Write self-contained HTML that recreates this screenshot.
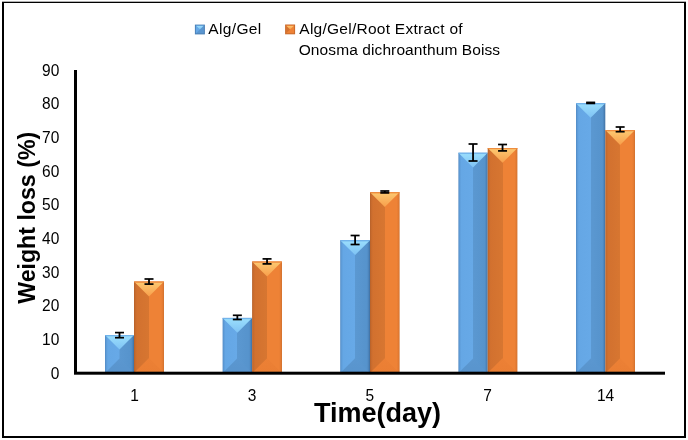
<!DOCTYPE html>
<html><head><meta charset="utf-8"><style>
html,body{margin:0;padding:0;background:#fff;}
svg{display:block;will-change:transform;}
text{font-family:"Liberation Sans",sans-serif;fill:#000;}
</style></head><body>
<svg width="688" height="440" viewBox="0 0 688 440">
<defs>
<linearGradient id="bside" x1="0" y1="0" x2="1" y2="0">
<stop offset="0" stop-color="#5088C2"/><stop offset="0.04" stop-color="#5C9AD6"/><stop offset="0.1" stop-color="#65A7E5"/><stop offset="0.499" stop-color="#67A9E7"/>
<stop offset="0.501" stop-color="#5B98D1"/><stop offset="0.9" stop-color="#5693CC"/><stop offset="0.955" stop-color="#4C83BA"/><stop offset="1" stop-color="#3F6F9F"/>
</linearGradient>
<linearGradient id="oside" x1="0" y1="0" x2="1" y2="0">
<stop offset="0" stop-color="#B4602A"/><stop offset="0.04" stop-color="#C66A2D"/><stop offset="0.1" stop-color="#D2712F"/><stop offset="0.499" stop-color="#D77631"/>
<stop offset="0.501" stop-color="#EE8236"/><stop offset="0.9" stop-color="#EE8236"/><stop offset="0.96" stop-color="#E27A32"/><stop offset="1" stop-color="#CF702E"/>
</linearGradient>
<linearGradient id="btop" x1="0" y1="0" x2="0" y2="1">
<stop offset="0" stop-color="#70B4EC"/><stop offset="0.12" stop-color="#98DCFC"/><stop offset="1" stop-color="#7EC2F4"/>
</linearGradient>
<linearGradient id="otop" x1="0" y1="0" x2="0" y2="1">
<stop offset="0" stop-color="#F08A3C"/><stop offset="0.12" stop-color="#FCC56E"/><stop offset="1" stop-color="#F89E4A"/>
</linearGradient>
<linearGradient id="bbot" x1="0" y1="0" x2="0" y2="1">
<stop offset="0" stop-color="#5B97D0"/><stop offset="1" stop-color="#5894CD"/>
</linearGradient>
<linearGradient id="obot" x1="0" y1="0" x2="0" y2="1">
<stop offset="0" stop-color="#EC8035"/><stop offset="1" stop-color="#EA7E33"/>
</linearGradient>
</defs>
<rect x="0" y="0" width="688" height="440" fill="#fff"/>
<!-- frame -->
<rect x="2" y="1.7" width="684" height="1.3" fill="#000"/>
<rect x="2" y="2" width="2" height="436" fill="#000"/>
<rect x="684" y="2" width="2" height="436" fill="#000"/>
<rect x="2" y="436" width="684" height="2" fill="#000"/>
<!-- legend -->
<rect x="194.9" y="24.6" width="10.00" height="9.80" fill="#4A7FB5"/><rect x="195.9" y="25.6" width="8.00" height="7.80" fill="#5A96D0"/><polygon points="195.9,25.6 199.9,29.500000000000004 195.9,33.400000000000006" fill="#66A8E6"/><polygon points="195.9,25.6 203.9,25.6 199.9,29.500000000000004" fill="url(#btop)"/>
<rect x="285.1" y="24.5" width="10.00" height="9.80" fill="#C86A2C"/><rect x="286.1" y="25.5" width="8.00" height="7.80" fill="#EE8236"/><polygon points="286.1,25.5 290.1,29.4 286.1,33.3" fill="#D4722F"/><polygon points="286.1,25.5 294.1,25.5 290.1,29.4" fill="url(#otop)"/>
<g font-size="15.5">
<text x="208.3" y="34" textLength="53">Alg/Gel</text>
<text x="299.3" y="33.8" textLength="163.3">Alg/Gel/Root Extract of</text>
<text x="298.7" y="54.8" textLength="201.4">Onosma dichroanthum Boiss</text>
</g>
<!-- bars -->
<rect x="105.00" y="335.10" width="29.00" height="38.00" fill="url(#bside)"/>
<polygon points="105.00,373.10 119.50,358.60 134.00,373.10" fill="url(#bbot)"/>
<polygon points="105.00,335.10 134.00,335.10 119.50,349.60" fill="url(#btop)"/>
<rect x="105.00" y="335.10" width="29.00" height="1" fill="#6FB0EA" opacity="0.8"/>
<rect x="134.00" y="281.60" width="30.00" height="91.50" fill="url(#oside)"/>
<polygon points="134.00,373.10 149.00,358.10 164.00,373.10" fill="url(#obot)"/>
<polygon points="134.00,281.60 164.00,281.60 149.00,296.60" fill="url(#otop)"/>
<rect x="134.00" y="281.60" width="30.00" height="1" fill="#EE8A3C" opacity="0.8"/>
<rect x="222.60" y="317.90" width="29.50" height="55.20" fill="url(#bside)"/>
<polygon points="222.60,373.10 237.35,358.35 252.10,373.10" fill="url(#bbot)"/>
<polygon points="222.60,317.90 252.10,317.90 237.35,332.65" fill="url(#btop)"/>
<rect x="222.60" y="317.90" width="29.50" height="1" fill="#6FB0EA" opacity="0.8"/>
<rect x="252.10" y="261.60" width="29.90" height="111.50" fill="url(#oside)"/>
<polygon points="252.10,373.10 267.05,358.15 282.00,373.10" fill="url(#obot)"/>
<polygon points="252.10,261.60 282.00,261.60 267.05,276.55" fill="url(#otop)"/>
<rect x="252.10" y="261.60" width="29.90" height="1" fill="#EE8A3C" opacity="0.8"/>
<rect x="340.20" y="240.20" width="29.80" height="132.90" fill="url(#bside)"/>
<polygon points="340.20,373.10 355.10,358.20 370.00,373.10" fill="url(#bbot)"/>
<polygon points="340.20,240.20 370.00,240.20 355.10,255.10" fill="url(#btop)"/>
<rect x="340.20" y="240.20" width="29.80" height="1" fill="#6FB0EA" opacity="0.8"/>
<rect x="370.00" y="192.20" width="29.60" height="180.90" fill="url(#oside)"/>
<polygon points="370.00,373.10 384.80,358.30 399.60,373.10" fill="url(#obot)"/>
<polygon points="370.00,192.20 399.60,192.20 384.80,207.00" fill="url(#otop)"/>
<rect x="370.00" y="192.20" width="29.60" height="1" fill="#EE8A3C" opacity="0.8"/>
<rect x="458.40" y="152.80" width="29.30" height="220.30" fill="url(#bside)"/>
<polygon points="458.40,373.10 473.05,358.45 487.70,373.10" fill="url(#bbot)"/>
<polygon points="458.40,152.80 487.70,152.80 473.05,167.45" fill="url(#btop)"/>
<rect x="458.40" y="152.80" width="29.30" height="1" fill="#6FB0EA" opacity="0.8"/>
<rect x="487.70" y="148.00" width="29.70" height="225.10" fill="url(#oside)"/>
<polygon points="487.70,373.10 502.55,358.25 517.40,373.10" fill="url(#obot)"/>
<polygon points="487.70,148.00 517.40,148.00 502.55,162.85" fill="url(#otop)"/>
<rect x="487.70" y="148.00" width="29.70" height="1" fill="#EE8A3C" opacity="0.8"/>
<rect x="576.00" y="103.20" width="29.30" height="269.90" fill="url(#bside)"/>
<polygon points="576.00,373.10 590.65,358.45 605.30,373.10" fill="url(#bbot)"/>
<polygon points="576.00,103.20 605.30,103.20 590.65,117.85" fill="url(#btop)"/>
<rect x="576.00" y="103.20" width="29.30" height="1" fill="#6FB0EA" opacity="0.8"/>
<rect x="605.30" y="130.10" width="29.70" height="243.00" fill="url(#oside)"/>
<polygon points="605.30,373.10 620.15,358.25 635.00,373.10" fill="url(#obot)"/>
<polygon points="605.30,130.10 635.00,130.10 620.15,144.95" fill="url(#otop)"/>
<rect x="605.30" y="130.10" width="29.70" height="1" fill="#EE8A3C" opacity="0.8"/>
<rect x="118.60" y="332.60" width="1.8" height="5.10" fill="#000"/>
<rect x="115.00" y="331.75" width="9" height="1.7" fill="#000"/>
<rect x="115.00" y="336.85" width="9" height="1.7" fill="#000"/>
<rect x="148.10" y="279.00" width="1.8" height="5.10" fill="#000"/>
<rect x="144.50" y="278.15" width="9" height="1.7" fill="#000"/>
<rect x="144.50" y="283.25" width="9" height="1.7" fill="#000"/>
<rect x="236.45" y="315.30" width="1.8" height="4.20" fill="#000"/>
<rect x="232.85" y="314.45" width="9" height="1.7" fill="#000"/>
<rect x="232.85" y="318.65" width="9" height="1.7" fill="#000"/>
<rect x="266.15" y="258.90" width="1.8" height="5.00" fill="#000"/>
<rect x="262.55" y="258.05" width="9" height="1.7" fill="#000"/>
<rect x="262.55" y="263.05" width="9" height="1.7" fill="#000"/>
<rect x="354.20" y="235.50" width="1.8" height="9.00" fill="#000"/>
<rect x="350.60" y="234.65" width="9" height="1.7" fill="#000"/>
<rect x="350.60" y="243.65" width="9" height="1.7" fill="#000"/>
<rect x="383.90" y="191.00" width="1.8" height="1.90" fill="#000"/>
<rect x="380.30" y="190.15" width="9" height="1.7" fill="#000"/>
<rect x="380.30" y="192.05" width="9" height="1.7" fill="#000"/>
<rect x="472.15" y="144.00" width="1.8" height="17.00" fill="#000"/>
<rect x="468.55" y="143.15" width="9" height="1.7" fill="#000"/>
<rect x="468.55" y="160.15" width="9" height="1.7" fill="#000"/>
<rect x="501.65" y="144.50" width="1.8" height="6.40" fill="#000"/>
<rect x="498.05" y="143.65" width="9" height="1.7" fill="#000"/>
<rect x="498.05" y="150.05" width="9" height="1.7" fill="#000"/>
<rect x="589.75" y="102.40" width="1.8" height="1.00" fill="#000"/>
<rect x="586.15" y="101.55" width="9" height="1.7" fill="#000"/>
<rect x="586.15" y="102.55" width="9" height="1.7" fill="#000"/>
<rect x="619.25" y="127.00" width="1.8" height="4.70" fill="#000"/>
<rect x="615.65" y="126.15" width="9" height="1.7" fill="#000"/>
<rect x="615.65" y="130.85" width="9" height="1.7" fill="#000"/>
<!-- axes -->
<rect x="74" y="70" width="3" height="304" fill="#000"/>
<rect x="74" y="371.7" width="591" height="3" fill="#000"/>
<g font-size="16.5">
<text transform="translate(59.3,378.7) scale(0.94,1)" text-anchor="end">0</text>
<text transform="translate(59.3,345.0) scale(0.94,1)" text-anchor="end">10</text>
<text transform="translate(59.3,311.3) scale(0.94,1)" text-anchor="end">20</text>
<text transform="translate(59.3,277.7) scale(0.94,1)" text-anchor="end">30</text>
<text transform="translate(59.3,244.0) scale(0.94,1)" text-anchor="end">40</text>
<text transform="translate(59.3,210.3) scale(0.94,1)" text-anchor="end">50</text>
<text transform="translate(59.3,176.6) scale(0.94,1)" text-anchor="end">60</text>
<text transform="translate(59.3,143.0) scale(0.94,1)" text-anchor="end">70</text>
<text transform="translate(59.3,109.3) scale(0.94,1)" text-anchor="end">80</text>
<text transform="translate(59.3,75.6) scale(0.94,1)" text-anchor="end">90</text>
<text transform="translate(134.5,400.9) scale(0.94,1)" text-anchor="middle">1</text>
<text transform="translate(252.1,400.9) scale(0.94,1)" text-anchor="middle">3</text>
<text transform="translate(369.7,400.9) scale(0.94,1)" text-anchor="middle">5</text>
<text transform="translate(487.5,400.9) scale(0.94,1)" text-anchor="middle">7</text>
<text transform="translate(605.6,400.9) scale(0.94,1)" text-anchor="middle">14</text>
</g>
<text font-size="24" font-weight="bold" transform="translate(35.0,303.8) rotate(-90)" textLength="172" lengthAdjust="spacingAndGlyphs">Weight loss (%)</text>
<text font-size="27" font-weight="bold" x="314" y="421.8">Time(day)</text>
</svg>
</body></html>
